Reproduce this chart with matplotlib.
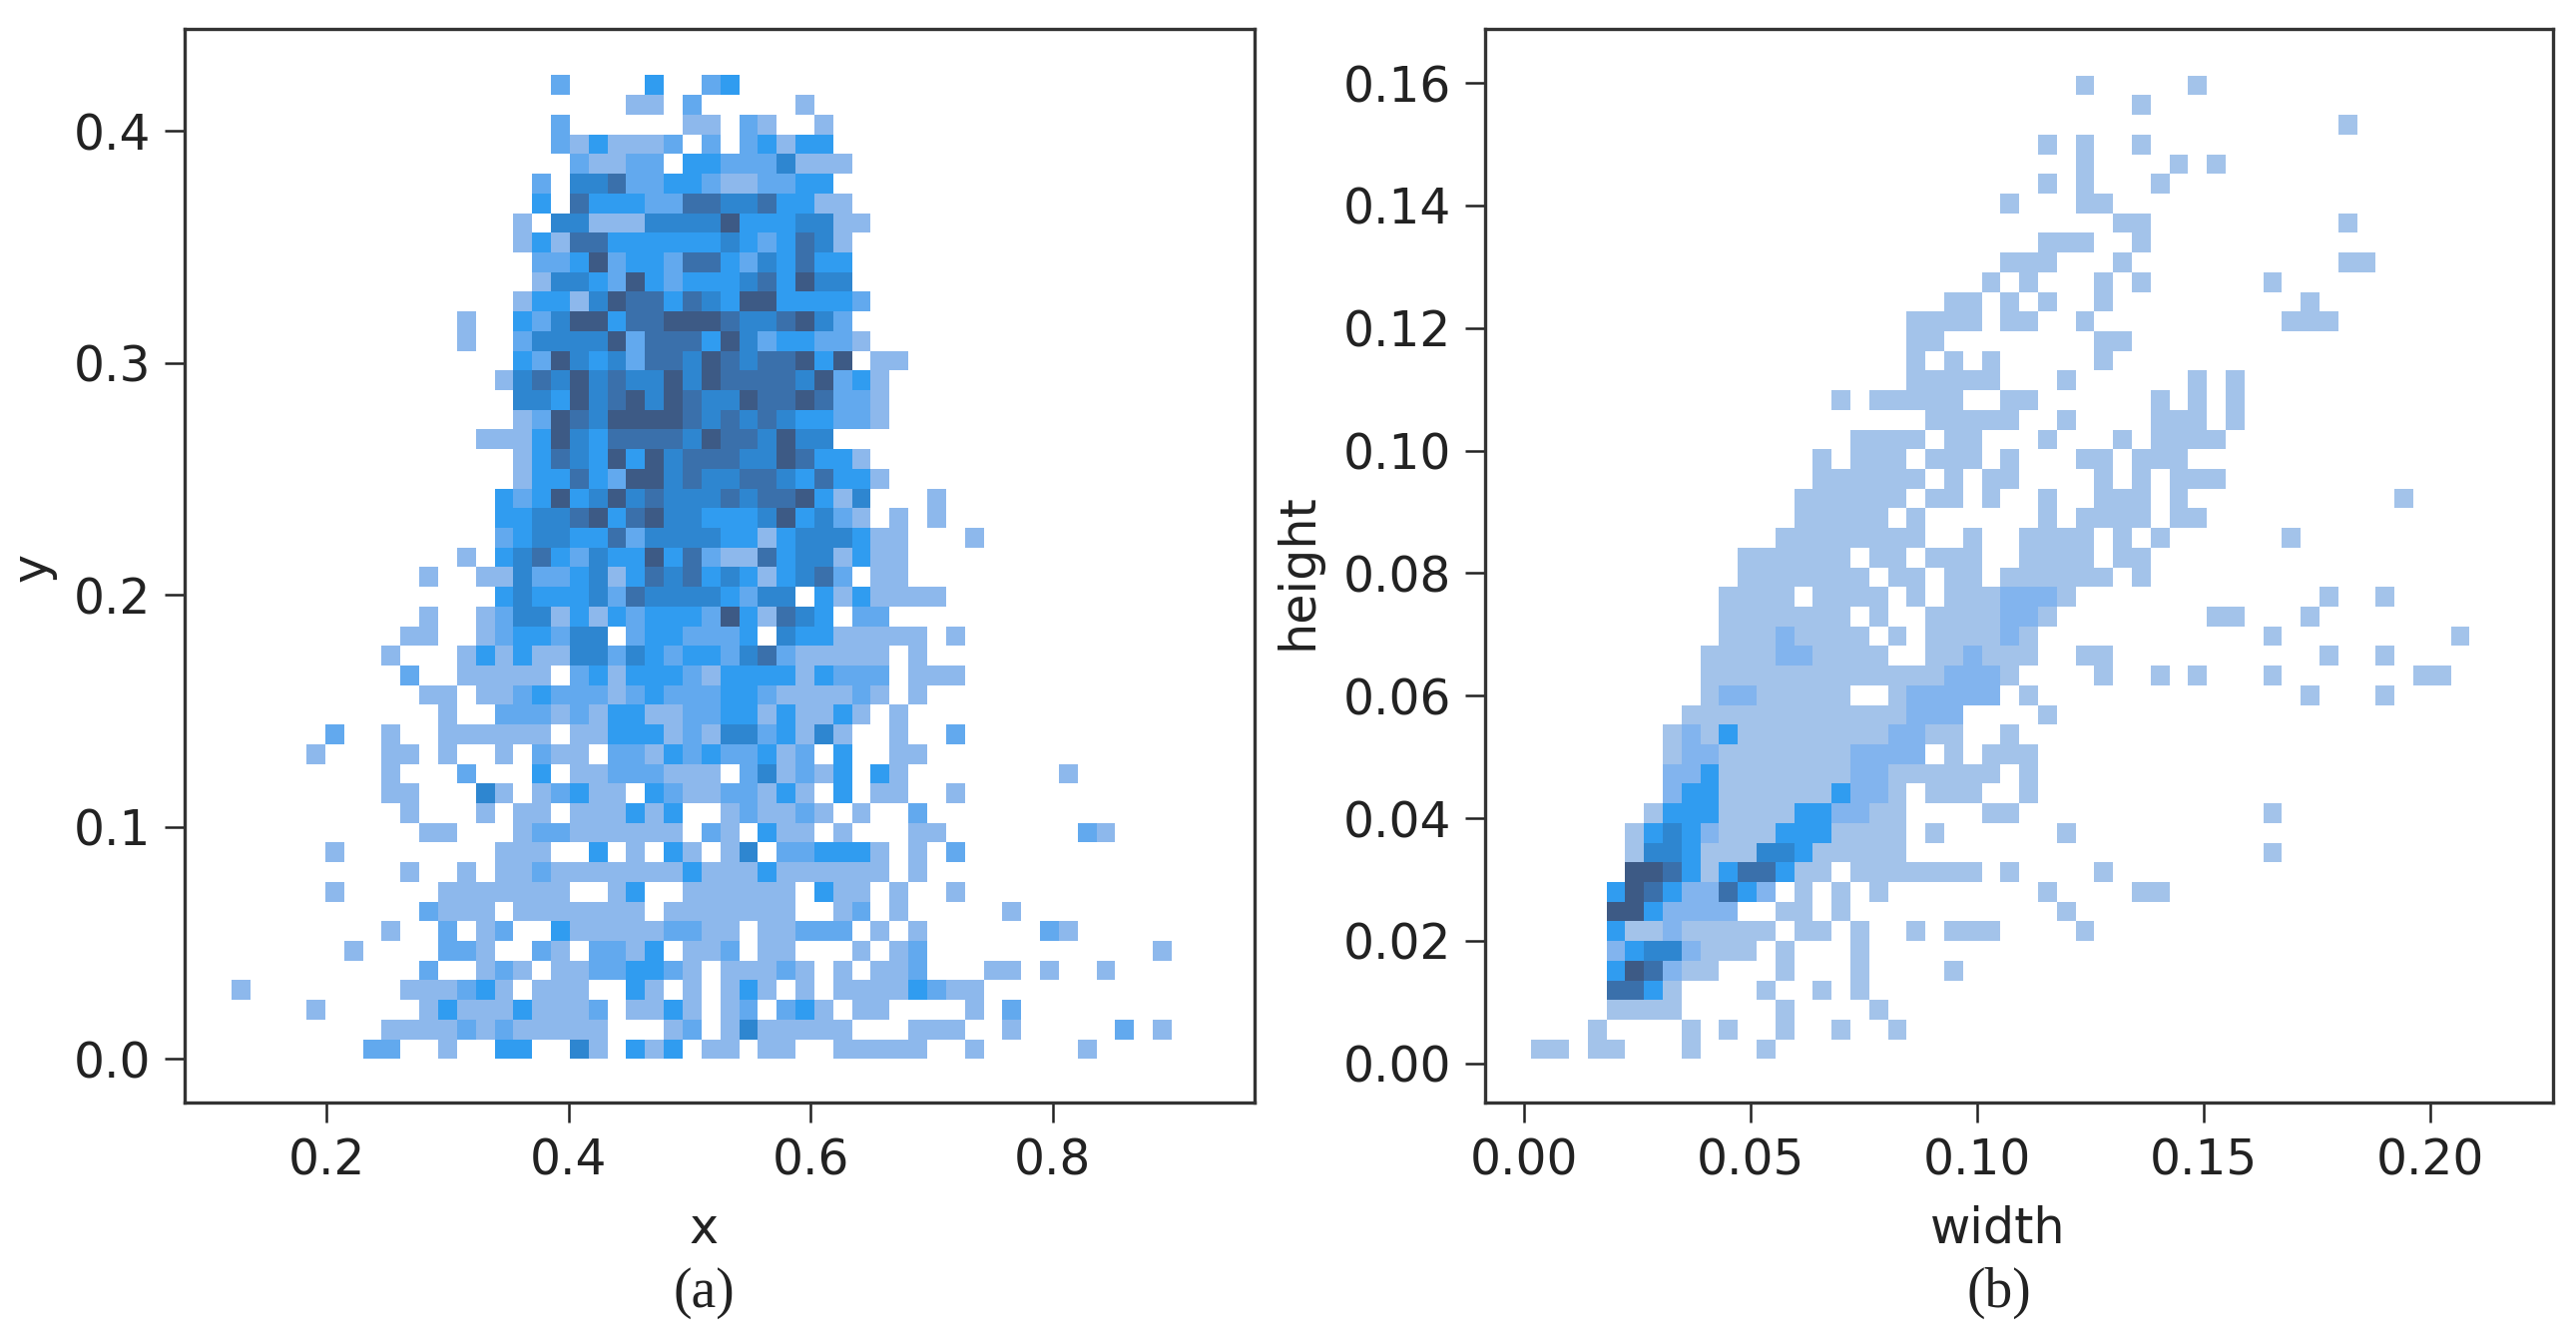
import numpy as np
import matplotlib
matplotlib.use("Agg")
import matplotlib.pyplot as plt
from matplotlib.colors import ListedColormap, BoundaryNorm

# density level of each cell (0 = empty), top row first
# every row is (first column, levels); spaces are only for reading
left_starts = [17, 21, 17, 17, 18, 16, 16, 15, 15, 16, 16, 15, 12, 12, 15, 14, 15, 15, 13, 15, 15, 14, 14, 14, 12,
               10, 14, 10, 9, 8, 9, 10, 11, 5, 4, 8, 8, 9, 10, 5, 9, 5, 10, 8, 6, 10, 0, 4, 8, 7]
left_rows = [
    "2000030023", "1102000001", "200000011021001", "213111202023133", "211220332224111",
    "2044522332112233", "30533322554453311", "1044111444463334411", "131553333334323541",
    "22362332553243533", "14432632333453644", "1331465535436633332", "100324663556665445642",
    "1002444462555364233221", "326434255465455636011", "145464544646555546231",
    "44364564654465565221", "12654666654545433221", "1113643555546554644", "1354363645554465331",
    "13353266454455435331", "323634645444545563140001", "334456356443334634210101",
    "23443352444433134443110001", "103453243363521153441311",
    "10011422341354534313452011", "343334254444324403131111", "1001244131323332631543022",
    "110012332440233222304331111101", "10001313114424323324521111101", "200111110231333213333132220111",
    "110112322212322233211112101", "1002221213311223313113101", "2001001111110113331214423141001002",
    "100011010010211022132322312030011", "1000200030112221110241213031000000001",
    "1100041012311032112213103011001", "1000101101113130012112101002",
    "1100012211111102103110100011000000021", "1000000001110030103101402233310102",
    "1001011211111113111311111101", "1000001111111001300111111031101001",
    "21110111111101111111001201000001", "1002012003111112211011222010100000021",
    "10000221002102213011201100010120000000000001", "2001210112233210111210101120001101001",
    "1000000001112310111003101013101011113211", "10000013111311120113101202310110000102",
    "111121211111000120141111100011100100000201", "220010033004103130110110011111001000001",
]

right_starts = [29, 32, 43, 27, 29, 27, 25, 31, 27, 25, 24, 22, 20, 20, 20, 20, 16, 21, 17, 15, 15, 14, 14, 13, 11,
                11, 10, 10, 10, 9, 9, 9, 8, 7, 7, 7, 7, 6, 5, 5, 5, 4, 4, 4, 4, 4, 4, 4, 3, 0]
right_rows = [
    "1000001", "1", "1", "101001", "10000101", "1010001", "100011", "11 0000000000 1", "111001",
    "111 000 1 00000000000 11", "1 0 1 000 1 0 1 000000 1", "11 0 1 0 1 00 1 0000000000 1",
    "1111 0 11 00 1 0000000000 111", "11 00000000 11", "10101 00000 1", "11111 000 1 000000 101",
    "1 0 11111 00 11 000000 10101", "11111 00 1 0000 111 0 1", "1111 0 11 000 1 000 1 0 1111",
    "1 0 111 0 111 0 1 000 11 0 111", "111111 0 1 0 11 0000 1 0 1 0 111",
    "111111 0 11 0 1 00 1 00 111 0 1 00000000000 1", "11111 0 1 000000 1 0 1111 0 11",
    "11111111 00 1 00 1111 0 1 0 1 000000 1", "111111 0 11 0 111 00 1111 0 11",
    "1111111 0 11 0 11 0 111111 0 1", "1111 0 1111 0 1 0 1112221 0000000000000 1 00 1",
    "1111111 0 1 00 1111221 00000000 11 000 1", "11121111 0 1 0 111121 000000000000 1 000000000 1",
    "1111221111 00 112111 00 11 00000000000 1 00 1",
    "1111111111111 222 1 0000 1 00 1 0 1 000 1 0000000 11",
    "122 11111 00 122222 0 1 00000000000000 1 000 1", "111111111111222 0000 1",
    "1213 11111111 22 11 00 1", "122 1111111 2222 0 1 0 111", "223 1111111 22 1 1111 1 0 1",
    "233 111111 3 22 1 0 111 00 1", "1333 1111 332211 0000 11 0000000000000 1",
    "13432 111 333 1111 0 1 000000 1", "14431 11 443 11111 0000000000000000000 1",
    "66531 3553 11 0 1111111 0 1 0000 1", "365322532 0 1 0 1 0 1 00000000 1 0000 11",
    "6632222 00 11 0 1 00000000000 1", "3112 11111 0 11 0 1 00 1 0 111 0000 1",
    "23442 111 0 1 000 1", "3652 11 000 1 000 1 0000 1", "5531 0000 1 00 1 0 1",
    "1111 00000 1 0000 1", "1 0000 1 0 1 00 1 00 1 00 1", "11 0 11 000 1 000 1",
]

left_xticks = [0.2, 0.4, 0.6, 0.8]
left_yticks = [0.0, 0.1, 0.2, 0.3, 0.4]
right_xticks = [0.00, 0.05, 0.10, 0.15, 0.20]
right_yticks = [0.00, 0.02, 0.04, 0.06, 0.08, 0.10, 0.12, 0.14, 0.16]

left_colors = ["#8db8ec", "#62a9ee", "#309cf0", "#2e86d0", "#3a70ab", "#3d5a85"]
right_colors = ["#a3c3ea", "#82b4ee", "#309cf0", "#2e86d0", "#3a70ab", "#3d5a85"]


def build_grid(starts, rows):
    grid = np.zeros((50, 50))
    for i, (start, row) in enumerate(zip(starts, rows)):
        digits = [int(c) for c in row.replace(" ", "")]
        grid[49 - i, start:start + len(digits)] = digits
    return np.ma.masked_equal(grid, 0)


def draw_panel(ax, grid, colors, x_range, y_range):
    xe = np.linspace(x_range[0], x_range[1], 51)
    ye = np.linspace(y_range[0], y_range[1], 51)
    norm = BoundaryNorm(np.arange(0.5, 7.5), 6)
    ax.pcolormesh(xe, ye, grid, cmap=ListedColormap(colors), norm=norm, linewidth=0)
    ax.tick_params(length=14.5, width=1.8, pad=10, labelsize=35, colors="#222222")
    for s in ax.spines.values():
        s.set_linewidth(2.4)
        s.set_color("#333333")


W, H = 2581, 1340
fig = plt.figure(figsize=(W / 100, H / 100), dpi=100)

ax1 = fig.add_axes([185 / W, 1 - 1105 / H, (1257 - 185) / W, (1105 - 29) / H])
draw_panel(ax1, build_grid(left_starts, left_rows), left_colors, (0.121, 0.8985), (0.0, 0.424))
ax1.set_xlim(0.0825, 0.967)
ax1.set_ylim(-0.0188, 0.444)
ax1.set_xticks(left_xticks)
ax1.set_xticklabels(["%.1f" % v for v in left_xticks])
ax1.set_yticks(left_yticks)
ax1.set_yticklabels(["%.1f" % v for v in left_yticks])

ax2 = fig.add_axes([1488 / W, 1 - 1105 / H, (2558 - 1488) / W, (1105 - 29) / H])
draw_panel(ax2, build_grid(right_starts, right_rows), right_colors, (0.0017, 0.2087), (0.0007, 0.1612))
ax2.set_xlim(-0.0085, 0.2271)
ax2.set_ylim(-0.0064, 0.1688)
ax2.set_xticks(right_xticks)
ax2.set_xticklabels(["%.2f" % v for v in right_xticks])
ax2.set_yticks(right_yticks)
ax2.set_yticklabels(["%.2f" % v for v in right_yticks])

# axis labels and captions sit at fixed spots in the page
fig.text(705 / W, 1 - 1232 / H, "x", fontsize=35.5, ha="center", va="center", color="#222222")
fig.text(33 / W, 1 - 568 / H, "y", fontsize=35.5, ha="center", va="center", rotation=90, color="#222222")
fig.text(2002 / W, 1 - 1232 / H, "width", fontsize=35.5, ha="center", va="center", color="#222222")
fig.text(1300 / W, 1 - 573 / H, "height", fontsize=35.5, ha="center", va="center", rotation=90, color="#222222")
fig.text(705 / W, 1 - 1296 / H, "(a)", fontsize=40, family="Liberation Serif", ha="center", va="center", color="#222222")
fig.text(2003 / W, 1 - 1296 / H, "(b)", fontsize=40, family="Liberation Serif", ha="center", va="center", color="#222222")

fig.savefig("out.png", dpi=100)
